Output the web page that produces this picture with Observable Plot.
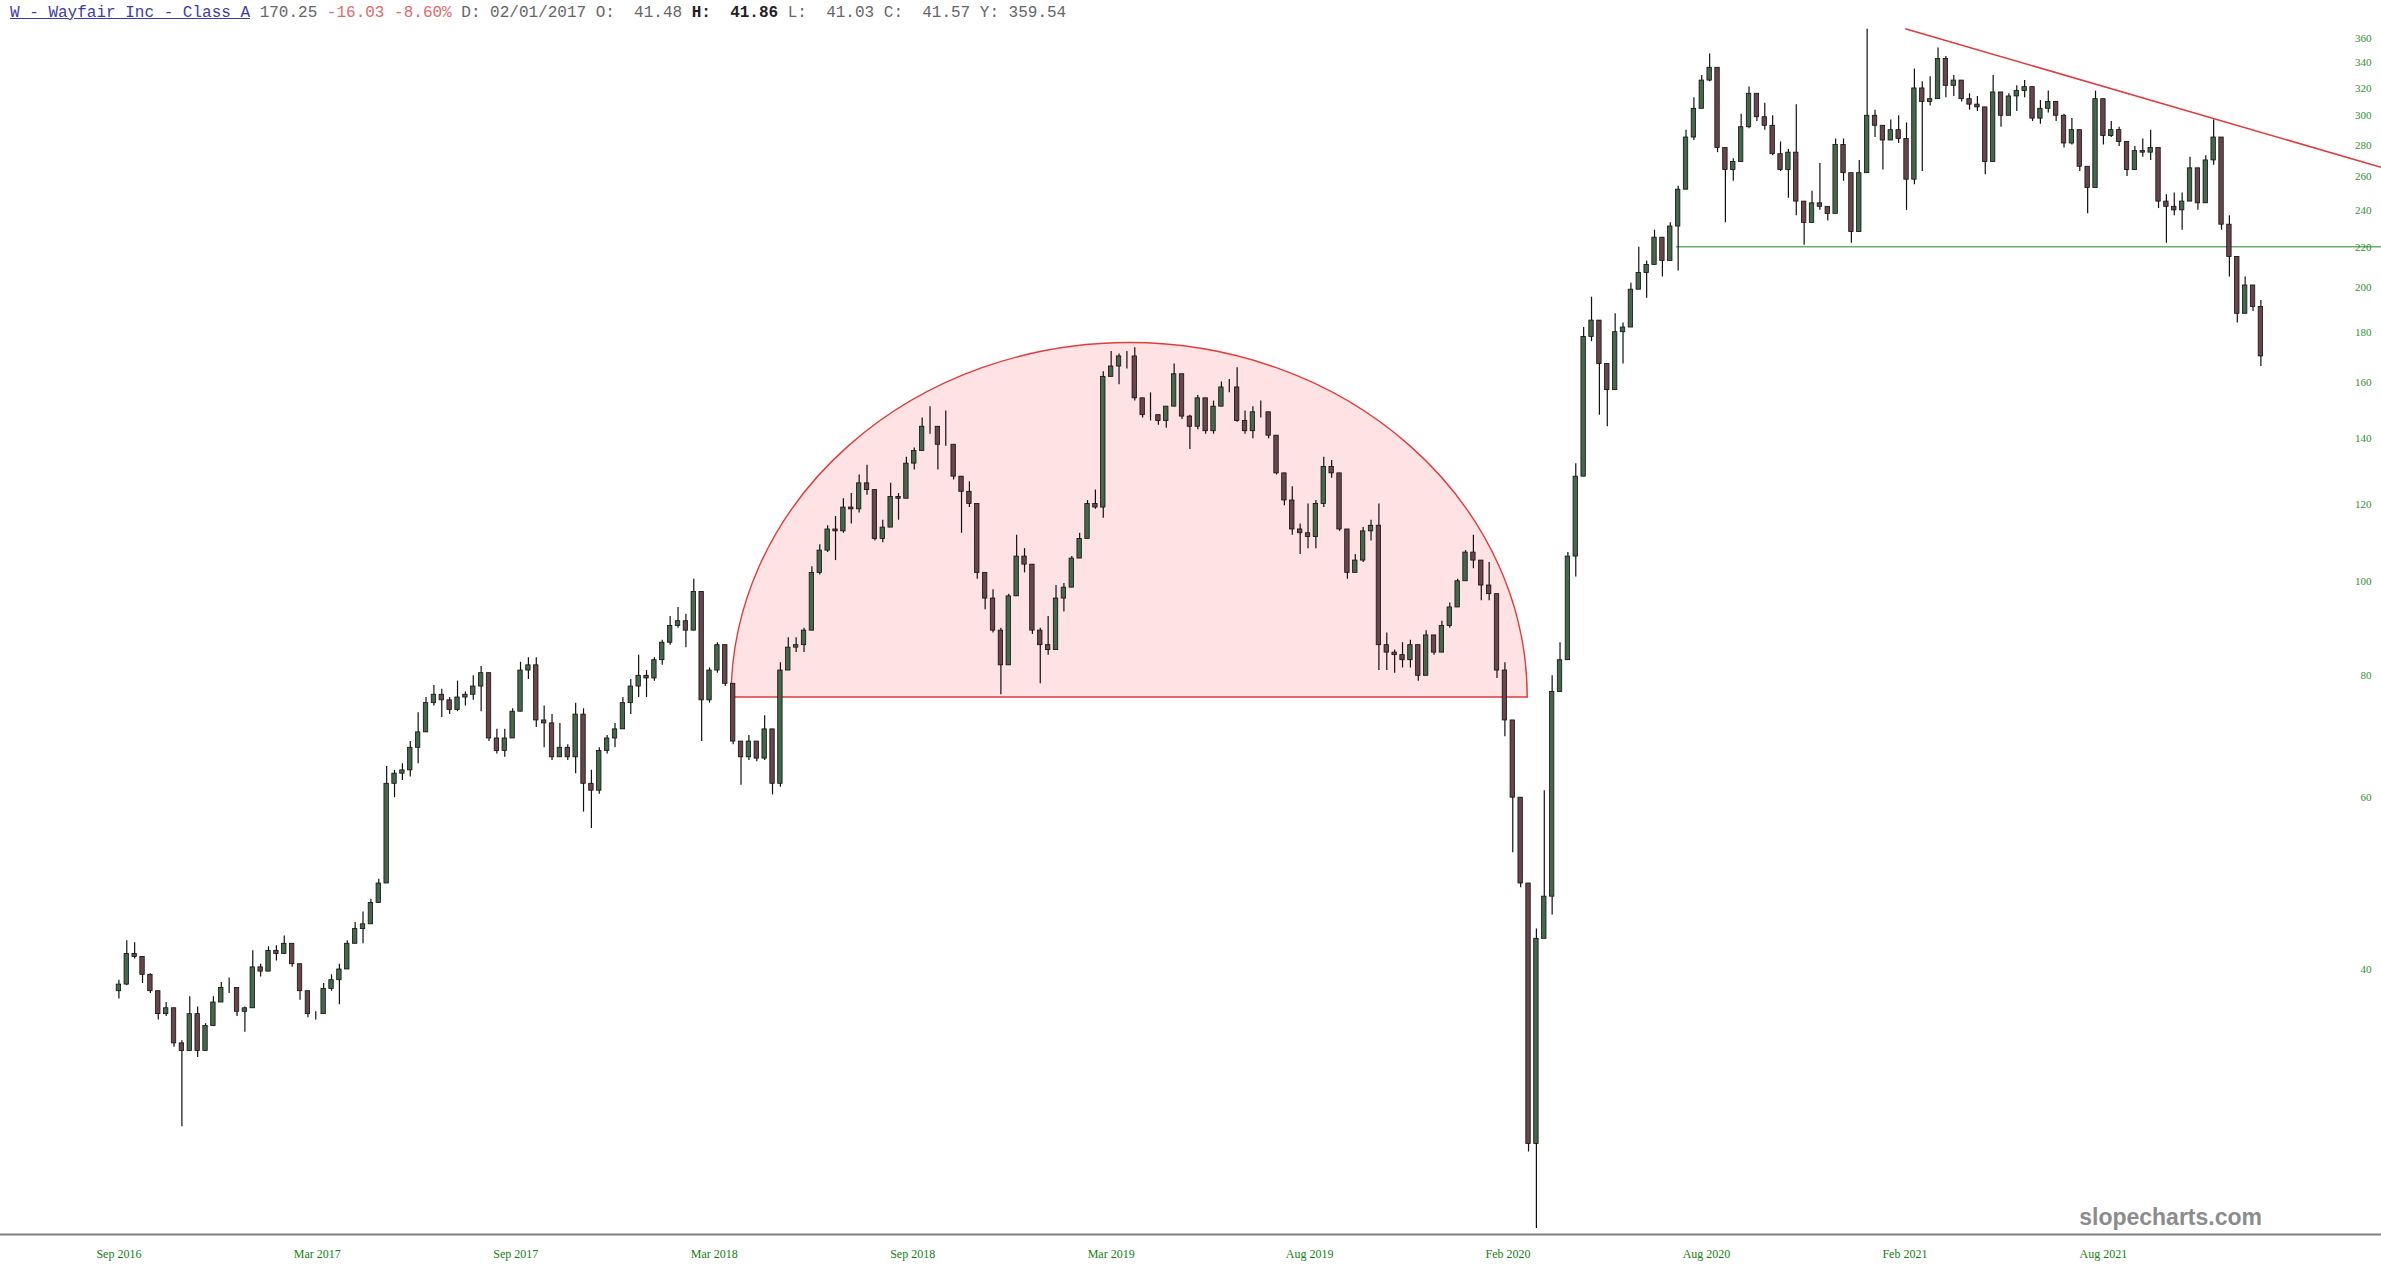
<!DOCTYPE html>
<html>
<head>
<meta charset="utf-8">
<script src="https://cdn.jsdelivr.net/npm/d3@7"></script>
<script src="https://cdn.jsdelivr.net/npm/@observablehq/plot@0.6"></script>
<style>
  html, body { margin: 0; padding: 0; background: #fff; }
  #wrap { position: relative; width: 2381px; height: 1275px; overflow: hidden; }
  #hdr { position: absolute; left: 10px; top: 3px; font-family: "Liberation Mono", "Courier New", monospace; font-size: 16px; white-space: pre; color: #666; line-height: 20px; }
  #hdr .t { color: #3b3ba8; text-decoration: underline; }
  #hdr .r { color: #e06a6a; }
  #hdr .b { color: #222; font-weight: bold; }
  #wm { position: absolute; right: 119px; top: 1204px; font-family: "Liberation Sans Narrow", "Arial Narrow", "Liberation Sans", sans-serif; font-weight: bold; font-size: 23px; color: #8c8c8c; }
</style>
</head>
<body>
<div id="wrap">
  <div id="chart"></div>
  <div id="hdr"><span class="t">W - Wayfair Inc - Class A</span> 170.25 <span class="r">-16.03 -8.60%</span> D: 02/01/2017 O:  41.48 <span class="b">H:  41.86</span> L:  41.03 C:  41.57 Y: 359.54</div>
  <div id="wm">slopecharts.com</div>
</div>
<script>
// Weekly bars (W - Wayfair Inc, Sep 2016 .. early 2022)
const weekHigh = [
39.0,42.8,42.6,41.0,39.6,37.5,37.0,36.2,33.8,37.5,36.6,35.2,37.5,38.8,39.2,38.2,36.6,41.8,40.5,42.2,
42.3,43.3,42.5,40.5,38.0,36.2,38.7,39.5,40.5,42.8,44.7,45.8,47.2,49.5,64.6,64.0,65.0,68.5,73.3,76.0,
78.2,77.5,76.0,79.0,77.0,80.0,81.8,80.0,70.5,70.5,74.0,82.6,83.5,83.5,74.5,73.0,71.5,68.0,75.0,74.0,
64.0,67.5,69.5,71.5,76.0,79.3,84.0,81.0,83.5,87.0,92.0,94.0,92.5,100.5,97.5,81.5,86.5,86.0,78.5,68.5,
69.5,68.5,72.8,70.5,82.5,87.5,87.5,89.5,103.5,109.0,114.0,116.5,121.5,123.0,128.5,131.5,124.0,115.5,126.0,123.0,
134.0,137.0,147.0,151.0,144.0,149.5,138.0,128.0,126.5,120.0,102.0,98.0,89.5,97.0,111.5,108.0,104.0,89.5,92.0,99.0,
99.5,106.0,112.0,121.0,124.0,164.0,172.0,171.0,172.0,173.5,154.0,156.0,148.0,151.0,167.0,163.0,148.0,155.0,154.0,153.0,
160.0,161.0,165.5,149.5,151.0,153.0,149.0,141.0,129.0,125.0,114.5,120.0,121.0,134.0,133.0,129.0,113.0,106.5,113.5,115.5,
120.0,88.5,85.0,86.5,87.0,86.0,89.0,88.0,91.0,95.0,100.5,107.5,111.5,105.0,104.5,97.0,82.5,72.0,60.0,49.0,
44.0,61.0,80.0,86.5,107.0,132.0,182.0,195.5,185.0,167.0,188.0,184.0,202.0,220.0,213.0,229.0,225.0,233.0,254.0,290.0,
313.0,330.0,347.0,336.0,278.0,271.0,301.0,321.0,316.0,309.0,300.0,282.0,277.0,308.0,245.0,251.0,268.0,242.0,284.0,284.0,
262.0,270.0,368.0,304.0,293.0,297.0,300.0,295.0,335.0,325.0,329.0,352.0,345.0,330.0,326.0,316.0,314.0,306.0,330.0,317.0,
316.0,322.0,326.0,321.0,311.0,318.0,310.0,301.0,298.0,290.0,266.0,318.0,312.0,296.0,292.0,282.0,279.0,284.0,290.0,278.0,
249.0,250.0,250.0,272.0,265.0,273.0,297.0,285.0,237.0,215.0,205.0,201.0,194.0
];
const weekLow = [
37.3,38.5,41.0,38.7,37.8,35.5,35.8,33.3,27.6,33.0,32.5,33.0,35.0,37.0,37.8,35.8,34.5,36.5,39.3,39.8,
40.8,41.5,40.2,37.2,35.7,35.5,36.0,38.0,36.8,40.3,42.5,42.5,44.5,47.0,49.5,60.0,62.5,63.0,65.0,70.5,
74.5,72.5,73.0,73.5,74.5,75.5,73.5,68.5,66.5,66.0,69.0,73.5,79.3,70.8,67.5,65.5,66.0,65.5,63.5,58.0,
55.8,60.5,66.5,67.5,70.5,73.0,76.0,76.0,79.0,82.0,86.0,89.5,85.5,89.0,68.5,75.0,80.5,78.0,68.0,61.8,
65.5,65.3,65.5,60.4,61.5,81.0,84.5,84.5,89.0,101.5,107.0,105.0,112.0,114.5,117.5,122.5,110.0,109.5,113.5,115.5,
121.5,130.0,136.0,141.5,130.0,137.5,127.0,112.0,119.0,100.5,93.5,88.5,76.5,82.0,96.5,102.0,88.2,78.5,84.0,85.0,
93.0,98.5,105.5,110.5,118.5,116.0,162.0,159.0,165.0,153.0,147.0,146.0,144.5,143.5,151.0,146.5,136.5,143.0,141.5,141.5,
151.0,156.0,145.5,141.5,140.0,147.0,140.0,128.5,119.5,111.5,106.5,108.0,108.0,119.0,127.5,112.5,100.5,102.0,104.5,110.0,
81.0,81.0,80.5,81.5,81.5,79.0,80.0,84.0,84.5,89.5,94.0,100.0,103.0,95.5,95.5,79.5,69.3,52.7,48.5,26.0,
21.7,43.0,45.5,77.0,83.0,101.0,128.0,176.0,148.0,144.0,157.0,167.0,182.0,199.0,195.0,211.0,205.0,213.0,208.0,252.0,
283.0,305.0,325.0,275.0,233.0,257.0,269.0,291.0,296.0,290.0,273.0,263.0,247.0,237.0,221.0,233.0,240.0,234.0,238.0,257.0,
222.0,228.0,262.0,285.0,264.0,283.0,281.0,240.0,255.0,263.0,307.0,312.0,313.0,314.0,310.0,304.0,303.0,261.0,269.0,292.0,
300.0,303.0,313.0,296.0,294.0,302.0,296.0,278.0,280.0,263.0,238.0,253.0,280.0,285.0,279.0,260.0,264.0,272.0,270.0,241.0,
222.0,237.0,229.0,245.0,240.0,244.0,267.0,229.0,205.0,184.0,188.0,189.0,166.0
];
const weekClose = [
38.6,41.5,41.2,39.5,38.0,36.0,36.5,33.6,33.0,36.0,33.0,35.0,37.0,38.3,38.3,36.2,36.5,40.2,39.8,41.8,
41.5,42.5,40.5,38.0,36.0,36.0,38.2,39.0,40.0,42.5,44.0,44.5,46.8,49.0,62.0,63.5,64.0,67.5,70.0,75.0,
76.5,75.5,73.8,76.0,76.5,78.0,80.5,69.0,67.0,69.0,73.5,81.0,82.0,72.0,71.5,66.0,67.5,66.0,73.0,62.0,
61.0,67.0,69.0,70.5,75.0,78.0,80.0,79.5,83.0,86.5,90.0,91.0,89.0,97.5,75.5,81.0,86.0,78.5,68.5,66.0,
68.5,65.8,70.5,62.0,81.0,85.5,86.0,89.0,102.0,107.5,113.0,112.5,119.0,118.5,126.0,124.0,110.5,113.5,122.0,121.5,
132.0,136.0,144.0,144.0,138.0,138.0,128.0,123.5,120.0,102.0,96.0,89.0,82.0,96.5,106.0,104.0,89.0,86.0,85.0,96.0,
98.5,105.5,110.5,120.0,119.0,162.0,166.0,170.0,170.0,154.0,148.0,148.0,146.0,151.0,163.0,147.5,144.0,154.0,142.5,151.0,
158.0,158.0,146.0,142.5,149.0,149.0,141.0,129.0,121.0,113.0,112.0,111.0,120.0,131.0,129.0,113.0,102.0,105.0,112.5,114.0,
86.0,84.5,84.0,83.0,86.0,80.0,88.0,84.5,90.0,94.0,100.0,107.0,105.0,99.0,97.0,81.0,72.0,60.0,49.0,26.5,
43.0,47.5,77.0,83.0,106.0,128.0,178.0,185.0,167.0,157.0,180.0,182.0,199.0,207.0,211.0,225.0,213.0,231.0,252.0,285.0,
305.0,326.0,336.0,278.0,264.0,269.0,292.0,316.0,299.0,293.0,274.0,264.0,275.0,245.0,233.0,244.0,242.0,238.0,280.0,262.0,
228.0,262.0,300.0,293.0,283.0,290.0,284.0,258.0,320.0,310.0,312.0,343.0,322.0,326.0,312.0,308.0,306.0,269.0,317.0,300.0,
314.0,318.0,321.0,298.0,305.0,310.0,300.0,281.0,290.0,266.0,253.0,312.0,286.0,290.0,282.0,264.0,276.0,275.0,278.0,245.0,
242.0,240.0,245.0,265.0,244.0,270.0,285.0,232.0,215.0,188.0,201.0,191.0,170.0
];
const firstOpen = 38.0;
const tradingDaysPerWeek = 5;

// Axis ticks (trading-day index from the first bar) and labels
const tickIndex = [0, 126, 252, 378, 504, 630, 756, 882, 1008, 1134, 1260];
const tickLabels = ["Sep 2016", "Mar 2017", "Sep 2017", "Mar 2018", "Sep 2018", "Mar 2019",
                    "Aug 2019", "Feb 2020", "Aug 2020", "Feb 2021", "Aug 2021"];
const yTicks = [40, 60, 80, 100, 120, 140, 160, 180, 200, 220, 240, 260, 280, 300, 320, 340, 360];

// Drawn annotations (in data terms)
const arcShape = {startIdx: 389, endIdx: 894.5, basePrice: 76, topPrice: 175.5};
const support = {startIdx: 989, price: 220};
const trend = {startIdx: 1134.5, startPrice: 368, touchIdx: 1332.4, touchPrice: 297};

const bars = weekClose.map((c, i) => {
  const o = i === 0 ? firstOpen : weekClose[i - 1];
  return {
    t: i * tradingDaysPerWeek,
    o, c,
    hi: Math.max(weekHigh[i], o, c),
    lo: Math.min(weekLow[i], o, c)
  };
});

const W = 2381, H = 1275;
const mL = 118.4, mR = 120.6, mT = 27, mB = 41;
const lastIdx = (weekClose.length - 1) * tradingDaysPerWeek;

const arcMark = (index, scales, values, dim) => {
  const x0 = scales.x(arcShape.startIdx), x1 = scales.x(arcShape.endIdx);
  const yb = scales.y(arcShape.basePrice), yt = scales.y(arcShape.topPrice);
  const rx = (x1 - x0) / 2, ry = yb - yt;
  return d3.create("svg:path")
    .attr("d", `M${x0},${yb} A${rx},${ry} 0 0 1 ${x1},${yb} Z`)
    .attr("fill", "#ffe2e4")
    .attr("stroke", "#e23b3b")
    .attr("stroke-width", 1.4).node();
};

const supportMark = (index, scales, values, dim) => {
  const y = scales.y(support.price);
  return d3.create("svg:line")
    .attr("x1", scales.x(support.startIdx)).attr("x2", dim.width)
    .attr("y1", y).attr("y2", y)
    .attr("stroke", "#6cad6c").attr("stroke-width", 1.6).node();
};

const trendMark = (index, scales, values, dim) => {
  const x0 = scales.x(trend.startIdx), y0 = scales.y(trend.startPrice);
  const x1 = scales.x(trend.touchIdx), y1 = scales.y(trend.touchPrice);
  const xe = dim.width;
  const ye = y0 + (xe - x0) * (y1 - y0) / (x1 - x0);
  return d3.create("svg:line")
    .attr("x1", x0).attr("y1", y0).attr("x2", xe).attr("y2", ye)
    .attr("stroke", "#e03a3a").attr("stroke-width", 1.6).node();
};

const baseAxisMark = (index, scales, values, dim) => {
  const y = dim.height - dim.marginBottom + 0.5;
  return d3.create("svg:line")
    .attr("x1", 0).attr("x2", dim.width).attr("y1", y).attr("y2", y)
    .attr("stroke", "#808080").attr("stroke-width", 2.2).node();
};

const chart = Plot.plot({
  width: W,
  height: H,
  marginLeft: mL,
  marginRight: mR,
  marginTop: mT,
  marginBottom: mB,
  style: {background: "transparent", overflow: "visible"},
  x: {domain: [0, lastIdx], axis: null},
  y: {type: "log", domain: [21.4, 369.5], axis: null},
  marks: [
    arcMark,
    supportMark,
    trendMark,
    Plot.ruleX(bars, {x: "t", y1: "lo", y2: "hi", stroke: "#111", strokeWidth: 1.2}),
    Plot.rect(bars, {
      x1: d => d.t - 1.4, x2: d => d.t + 1.4,
      y1: "o", y2: "c",
      fill: d => d.c >= d.o ? "#44684a" : "#6a454c",
      stroke: "#111", strokeWidth: 0.8
    }),
    baseAxisMark,
    Plot.text(yTicks, {
      y: d => d, frameAnchor: "right", dx: 110.5, textAnchor: "end",
      text: d => String(d), fill: "#2f8f2f", fontSize: 11,
      fontFamily: "Liberation Serif, DejaVu Serif, serif"
    }),
    Plot.text(tickIndex, {
      x: d => d, frameAnchor: "bottom", dy: 20, lineAnchor: "middle",
      text: (d, i) => tickLabels[i], fill: "#137f13", fontSize: 12,
      fontFamily: "Liberation Serif, DejaVu Serif, serif"
    })
  ]
});

document.getElementById("chart").appendChild(chart);
</script>
</body>
</html>
